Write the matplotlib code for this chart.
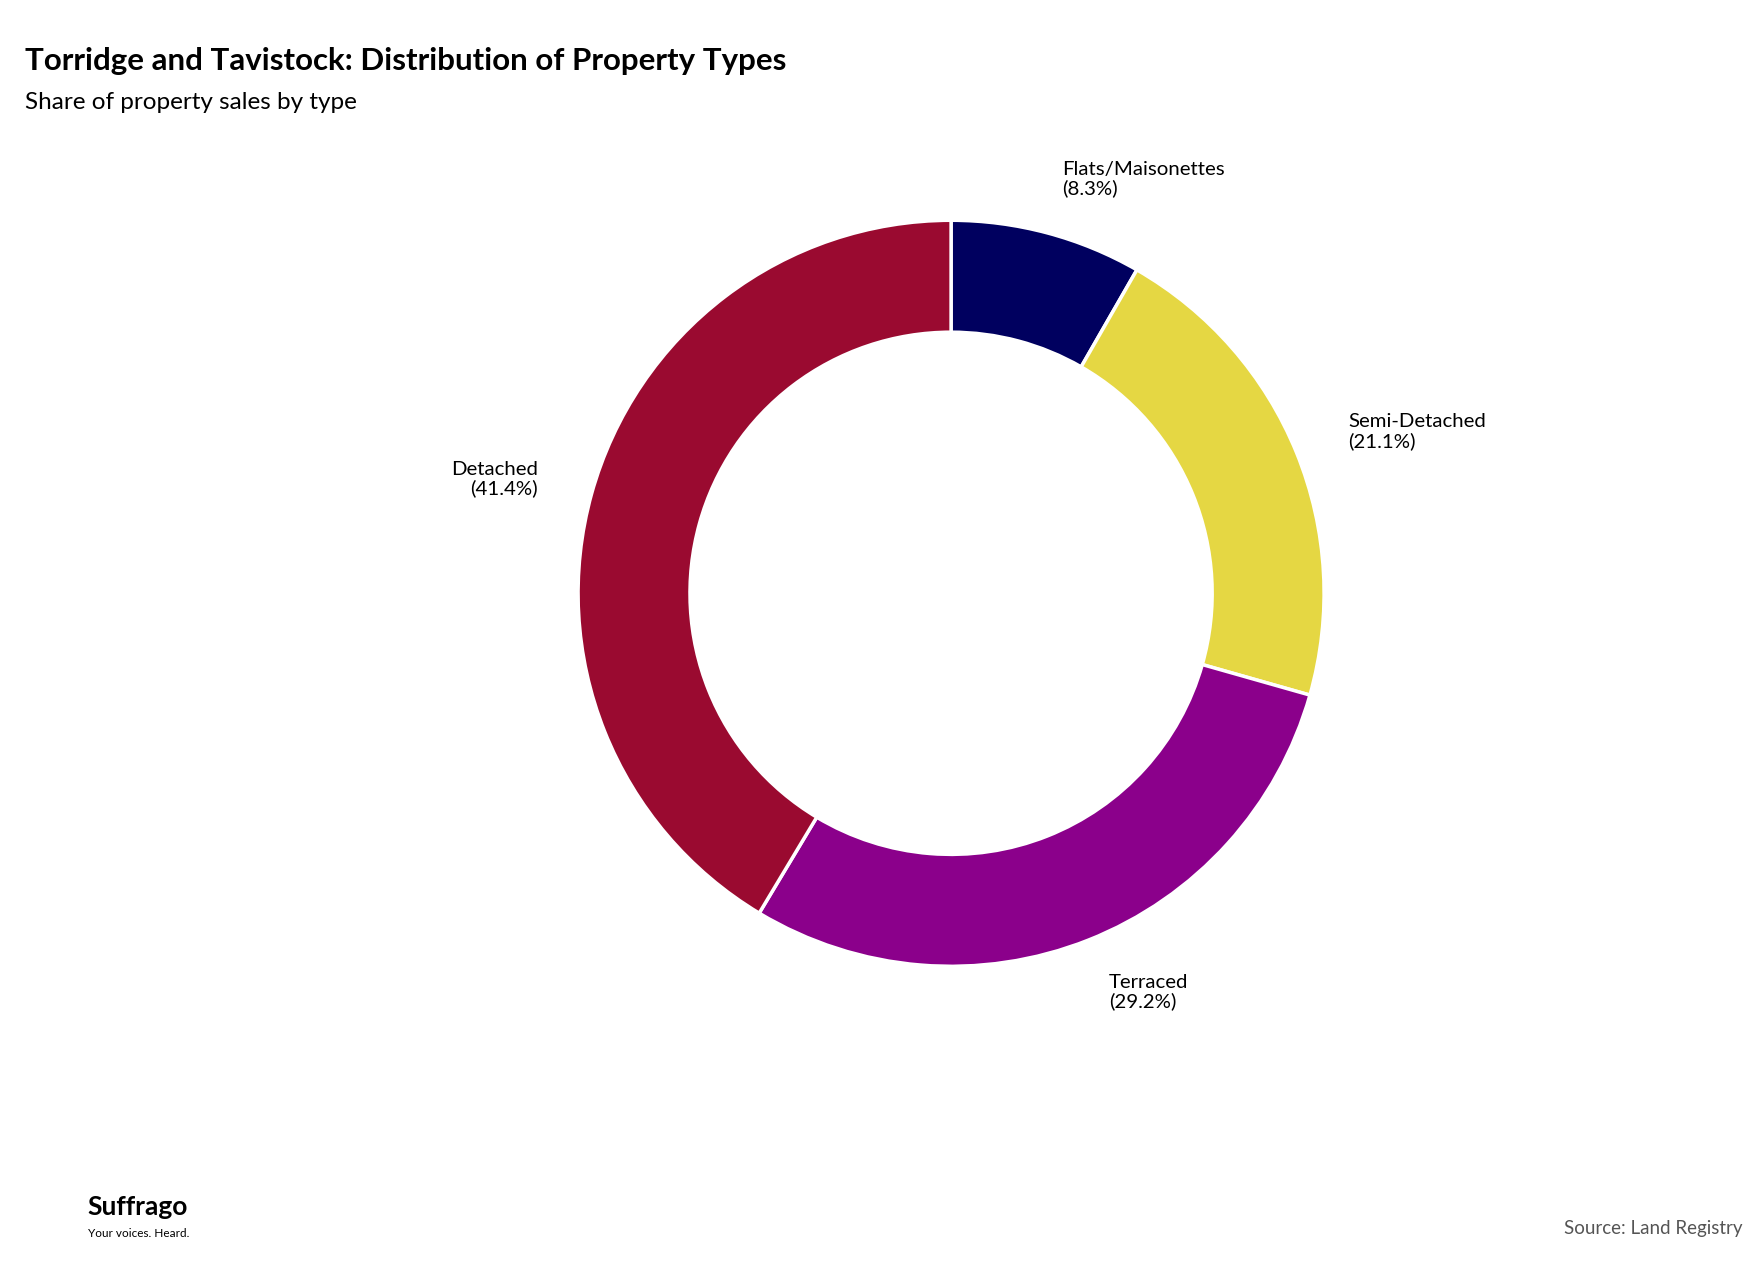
import matplotlib
matplotlib.use("Agg")
import matplotlib.pyplot as plt
import numpy as np

categories = ["Flats/Maisonettes", "Semi-Detached", "Terraced", "Detached"]
values = [8.3, 21.1, 29.2, 41.4]
colors = ["#00005f", "#e5d743", "#8b008b", "#9a0a30"]

plt.rcParams['font.family'] = ['Lato', 'DejaVu Sans']
W, H = 1758, 1265
fig = plt.figure(figsize=(W/100, H/100), dpi=100)
cx, cy = 0.541, 0.531
R = 373
half = 1.2*R
ax = fig.add_axes([cx - half/W, cy - half/H, 2*half/W, 2*half/H])
wedges, _ = ax.pie(values, colors=colors, startangle=90, counterclock=False,
                   radius=1, wedgeprops=dict(width=0.3, edgecolor='white', linewidth=2.5),
                   frame=True)
ax.set_xlim(-1.2, 1.2); ax.set_ylim(-1.2, 1.2); ax.axis('off')
cum = 0
for c, v in zip(categories, values):
    mid = np.deg2rad(90 - (cum + v/2)*3.6)
    cum += v
    x, y = 1.15*np.cos(mid), 1.15*np.sin(mid)
    ax.text(x, y, f"{c}\n({v}%)", ha='left' if x > 0 else 'right', va='center',
            fontsize=14.7, linespacing=1.1, ma='left' if x > 0 else 'right')

fig.text(0.014, 0.952, "Torridge and Tavistock: Distribution of Property Types",
         fontsize=22.5, fontweight='bold', va='center')
fig.text(0.014, 0.919, "Share of property sales by type", fontsize=17.5, va='center')
fig.text(0.991, 0.029, "Source: Land Registry", fontsize=13.5, color='#555555', ha='right', va='center')
fig.text(0.05, 0.046, "Suffrago", fontsize=19, fontweight='bold', va='center')
fig.text(0.05, 0.025, "Your voices. Heard.", fontsize=8.5, va='center')
fig.savefig("out.png", dpi=100, facecolor='white')
